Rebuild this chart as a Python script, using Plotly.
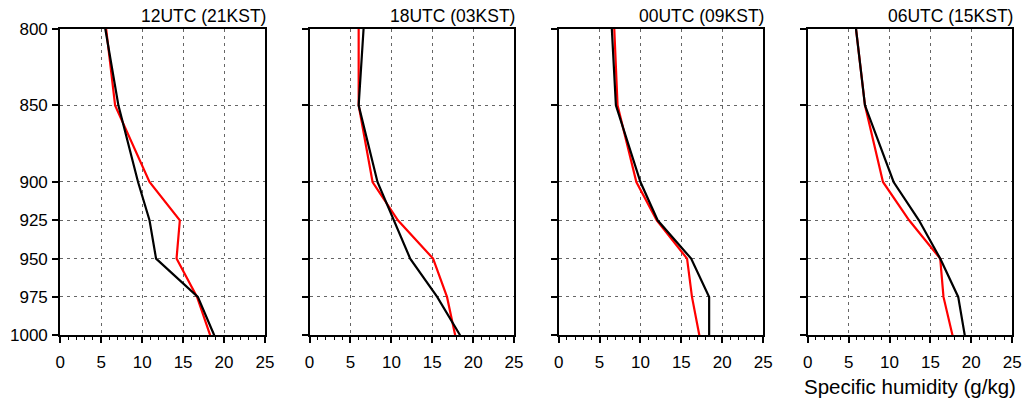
import plotly.graph_objects as go

pressure = [800, 850, 900, 925, 950, 975, 1000]
titles = ["12UTC (21KST)", "18UTC (03KST)", "00UTC (09KST)", "06UTC (15KST)"]

red_12utc = [5.6, 6.7, 10.9, 14.6, 14.2, 16.7, 18.3]
black_12utc = [5.5, 7.1, 9.5, 10.9, 11.7, 16.8, 18.8]
red_18utc = [6.0, 6.0, 7.7, 10.8, 15.1, 16.8, 17.8]
black_18utc = [6.6, 6.0, 8.3, 10.3, 12.3, 15.6, 18.4]
red_00utc = [6.8, 7.2, 9.5, 12.0, 15.7, 16.3, 17.2]
black_00utc = [6.5, 7.0, 10.0, 12.1, 16.2, 18.4, 18.4]
red_06utc = [5.9, 7.0, 9.2, 12.4, 16.2, 16.6, 17.7]
black_06utc = [5.9, 7.0, 10.5, 13.6, 16.2, 18.4, 19.2]

red_series = [red_12utc, red_18utc, red_00utc, red_06utc]
black_series = [black_12utc, black_18utc, black_00utc, black_06utc]

x_ticks = [0, 5, 10, 15, 20, 25]
y_ticks = [800, 850, 900, 925, 950, 975, 1000]

W, H = 1028, 407
px_domains = [(56.0, 263.6), (308.8, 516.1), (561.3, 768.6), (813.8, 1021.1)]
y_top_px, y_bot_px = 20.7, 342.2
y_dom = [(H - y_bot_px) / H, (H - y_top_px) / H]

fig = go.Figure()
font = "Liberation Sans, Arial, sans-serif"

for i in range(4):
    xa = "x" if i == 0 else f"x{i+1}"
    ya = "y" if i == 0 else f"y{i+1}"
    fig.add_trace(go.Scatter(x=red_series[i], y=pressure, mode="lines",
                             line=dict(color="#ff0000", width=2.2),
                             xaxis=xa, yaxis=ya, showlegend=False))
    fig.add_trace(go.Scatter(x=black_series[i], y=pressure, mode="lines",
                             line=dict(color="#000000", width=2.2),
                             xaxis=xa, yaxis=ya, showlegend=False))
    d = px_domains[i]
    xkey = "xaxis" if i == 0 else f"xaxis{i+1}"
    ykey = "yaxis" if i == 0 else f"yaxis{i+1}"
    fig.layout[xkey] = dict(
        domain=[d[0] / W, d[1] / W], range=[0, 25], anchor=ya,
        tickvals=x_ticks, ticks="outside", ticklen=6, tickwidth=1.5, tickcolor="black",
        minor=dict(ticks="outside", dtick=1, ticklen=3, tickcolor="black", tickwidth=1, showgrid=False),
        showline=True, linecolor="black", linewidth=2, mirror=True,
        showgrid=True, gridcolor="#666666", griddash="3px,4px", gridwidth=1,
        zeroline=False, tickfont=dict(family=font, size=17, color="black"),
        ticklabelstandoff=4, fixedrange=True,
    )
    fig.layout[ykey] = dict(
        domain=y_dom, range=[1000, 800], anchor=xa,
        tickvals=y_ticks, ticks="outside", ticklen=6, tickwidth=1.5, tickcolor="black",
        showticklabels=(i == 0),
        showline=True, linecolor="black", linewidth=2, mirror=True,
        showgrid=True, gridcolor="#666666", griddash="3px,4px", gridwidth=1,
        zeroline=False, tickfont=dict(family=font, size=17, color="black"),
        ticklabelstandoff=1, fixedrange=True,
    )
    fig.add_annotation(text=titles[i], xref="paper", yref="paper",
                       x=(d[1] + 3) / W, y=(H - 7) / H, xanchor="right", yanchor="middle",
                       showarrow=False, font=dict(family=font, size=17.5, color="black"))

fig.add_annotation(text="Specific humidity (g/kg)", xref="paper", yref="paper",
                   x=(px_domains[3][0] + px_domains[3][1]) / 2 / W, y=(H - 395.5) / H,
                   xanchor="center", yanchor="middle", showarrow=False,
                   font=dict(family=font, size=20.5, color="black"))

fig.update_layout(width=W, height=H, margin=dict(l=0, r=0, t=0, b=0),
                  plot_bgcolor="white", paper_bgcolor="white")

fig.write_html("out.html")
